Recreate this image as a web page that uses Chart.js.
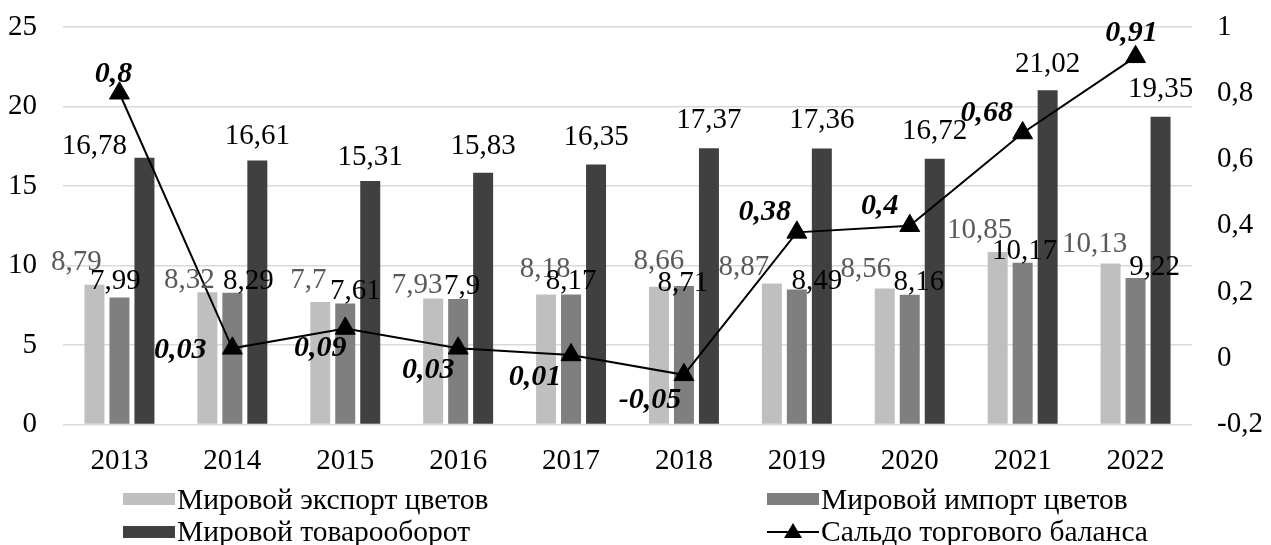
<!DOCTYPE html>
<html>
<head>
<meta charset="utf-8">
<script src="https://cdn.jsdelivr.net/npm/chart.js@4.4.0/dist/chart.umd.min.js"></script>
<style>
body{margin:0;background:#fff;}
#wrap{position:relative;width:1271px;height:545px;overflow:hidden;}
.leg{position:absolute;font-family:"Liberation Serif";font-size:29.5px;line-height:28px;color:#000;white-space:nowrap;}
.sw{position:absolute;width:52px;height:12px;}
</style>
</head>
<body>
<div id="wrap">
<canvas id="chart" width="1271" height="545"></canvas>

<div class="sw" style="left:123px;top:493px;background:#bfbfbf"></div>
<div class="leg" style="left:177px;top:485px">Мировой экспорт цветов</div>
<div class="sw" style="left:767px;top:493px;background:#7f7f7f"></div>
<div class="leg" style="left:821px;top:485px">Мировой импорт цветов</div>
<div class="sw" style="left:123px;top:526px;background:#404040"></div>
<div class="leg" style="left:177px;top:517px">Мировой товарооборот</div>
<svg style="position:absolute;left:765px;top:520px" width="56" height="24">
<line x1="2" y1="12" x2="54" y2="12" stroke="#000" stroke-width="2"/>
<polygon points="28,3 37,18 19,18" fill="#000"/>
</svg>
<div class="leg" style="left:821px;top:517px">Сальдо торгового баланса</div>
</div>

<script>
const years = ["2013","2014","2015","2016","2017","2018","2019","2020","2021","2022"];

const exportFlowers = [8.79, 8.32, 7.7, 7.93, 8.18, 8.66, 8.87, 8.56, 10.85, 10.13];
const importFlowers = [7.99, 8.29, 7.61, 7.9, 8.17, 8.71, 8.49, 8.16, 10.17, 9.22];
const turnover = [16.78, 16.61, 15.31, 15.83, 16.35, 17.37, 17.36, 16.72, 21.02, 19.35];
const balance = [0.8, 0.03, 0.09, 0.03, 0.01, -0.05, 0.38, 0.4, 0.68, 0.91];

// where each value label sits, relative to the bar top / point
const exportShift = [[-18,-22],[-18,-12],[-12,-22],[-16,-13],[-1,-25],[0,-25],[-28,-16],[-19,-19],[-18,-22],[-16,-19]];
const importShift = [[-4,-16],[16,-11],[10,-12],[4,-12],[0,-13],[-1,-3],[20,-8],[9,-12],[2,-11],[19,-11]];
const turnoverShift = [[-50,-11],[0,-24],[0,-24],[0,-26],[0,-27],[0,-28],[0,-28],[0,-27],[0,-26],[0,-27]];
const balanceShift = [[-6,-19],[-52,2],[-25,20],[-30,22],[-36,22],[-34,25],[-32,-20],[-30,-20],[-36,-20],[-4,-24]];

const serif = "Liberation Serif";

function comma(v){
return String(Math.round(v*100)/100).replace(".",",");
}

const labelStyles = [
{shift:exportShift, color:"#595959", font:"29px \"Liberation Serif\""},
{shift:importShift, color:"#000", font:"29px \"Liberation Serif\""},
{shift:turnoverShift, color:"#000", font:"29px \"Liberation Serif\""},
{shift:balanceShift, color:"#000", font:"italic bold 30px \"Liberation Serif\""}
];

const valueLabels = {
id:"valueLabels",
afterDatasetsDraw(chart){
const ctx = chart.ctx;
chart.data.datasets.forEach((ds,i)=>{
const st = labelStyles[i];
const meta = chart.getDatasetMeta(i);
ctx.save();
ctx.font = st.font;
ctx.fillStyle = st.color;
ctx.textAlign = "center";
ctx.textBaseline = "middle";
meta.data.forEach((el,j)=>{
ctx.fillText(comma(ds.data[j]), el.x + st.shift[j][0], el.y + st.shift[j][1]);
});
ctx.restore();
});
}
};

// fixed widths, and no extra room above/below for the tick labels
function fixWidth(w){
return s => {
s.width = w;
s.paddingTop = 0;
s.paddingBottom = 0;
};
}

new Chart(
document.getElementById("chart"),
{
type:"bar",
data:{
labels:years,
datasets:[
{
label:"Мировой экспорт цветов",
data:exportFlowers,
backgroundColor:"#bfbfbf",
categoryPercentage:0.664,
barPercentage:0.8,
order:1
},
{
label:"Мировой импорт цветов",
data:importFlowers,
backgroundColor:"#7f7f7f",
categoryPercentage:0.664,
barPercentage:0.8,
order:1
},
{
label:"Мировой товарооборот",
data:turnover,
backgroundColor:"#404040",
categoryPercentage:0.664,
barPercentage:0.8,
order:1
},
{
type:"line",
label:"Сальдо торгового баланса",
data:balance,
yAxisID:"y1",
borderColor:"#000",
borderWidth:2,
pointStyle:"triangle",
pointRadius:11.5,
pointBackgroundColor:"#000",
pointBorderColor:"#000",
pointBorderWidth:1,
tension:0,
order:0
}
]
},
options:{
responsive:false,
animation:false,
devicePixelRatio:1,
layout:{padding:{top:27,left:0,right:0,bottom:0}},
plugins:{
legend:{display:false},
tooltip:{enabled:false}
},
scales:{
x:{
grid:{display:false,drawTicks:false},
border:{display:false},
ticks:{
color:"#000",
font:{family:serif,size:29},
padding:19,
maxRotation:0
},
afterFit(s){ s.height = 120.5; }
},
y:{
position:"left",
min:0,
max:25,
grid:{color:"#d9d9d9",lineWidth:1.5,drawTicks:false},
border:{display:false},
ticks:{
stepSize:5,
color:"#000",
font:{family:serif,size:29},
padding:26
},
afterFit:fixWidth(63)
},
y1:{
position:"right",
min:-0.2,
max:1,
grid:{display:false,drawTicks:false},
border:{display:false},
ticks:{
stepSize:0.2,
color:"#000",
font:{family:serif,size:29},
padding:25,
callback:v => comma(Math.round(v*10)/10)
},
afterFit:fixWidth(79)
}
}
},
plugins:[valueLabels]
}
);
</script>
</body>
</html>
